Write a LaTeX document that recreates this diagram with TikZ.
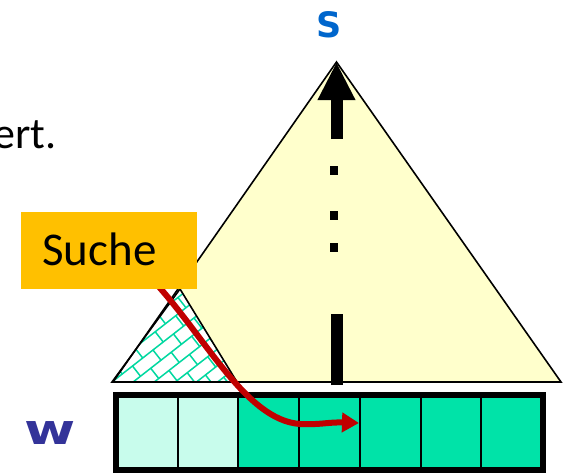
\documentclass[tikz,border=0pt]{standalone}
\usepackage{fontspec}
\newfontfamily\carlito{Carlito}
\newfontfamily\dejavu{DejaVu Sans}
\usetikzlibrary{arrows.meta}

\definecolor{triyellow}{HTML}{FFFFCC}
\definecolor{boxorange}{HTML}{FFC000}
\definecolor{cellpale}{HTML}{C8FCEC}
\definecolor{cellteal}{HTML}{00E3A8}
\definecolor{brickgreen}{HTML}{00D8A0}
\definecolor{pathred}{HTML}{C00000}
\definecolor{wblue}{HTML}{333399}
\definecolor{sblue}{HTML}{0066CC}

\begin{document}
\begin{tikzpicture}[x=1pt,y=-1pt,
  outline/.style={draw=black,line width=1.6pt,line join=miter},
  brickline/.style={draw=brickgreen,line width=1.5pt},
  cellbox/.style={draw=black,line width=2pt,inner sep=0pt,
    minimum width=60.71pt,minimum height=73pt,anchor=north west},
  redpath/.style={draw=pathred,line width=6pt,
    -{Triangle[length=17pt,width=19pt]}},
  spine/.style={line width=12pt},
  labeltext/.style={inner sep=0pt}]
\useasboundingbox (0,0) rectangle (565,472);

% large yellow triangle
\coordinate (apex) at (336.5,62);
\coordinate (bigl) at (113,382);
\coordinate (bigr) at (561,382);
\fill[triyellow] (apex) -- (bigl) -- (bigr) -- cycle;

% small hatched triangle
\coordinate (sa) at (180,289);
\coordinate (sl) at (112,382);
\coordinate (sr) at (237,382);
\fill[white] (sa) -- (sl) -- (sr) -- cycle;
\begin{scope}
  \clip (sa) -- (sl) -- (sr) -- cycle;
  \begin{scope}[shift={(112,382)},rotate=38]
    \foreach \rw in {-5,...,8} {
      \draw[brickline] (-40,\rw*13) -- (170,\rw*13);
      \pgfmathsetmacro\off{mod(\rw+20,2)*13}
      \foreach \cl in {-2,...,7} {
        \draw[brickline] (\cl*26+\off,\rw*13) -- (\cl*26+\off,\rw*13+13);
      }
    }
  \end{scope}
\end{scope}

\draw[outline] (apex) -- (bigl) -- (bigr) -- cycle;
\draw[outline] (sa) -- (sl) -- (sr) -- cycle;

% array of cells
\foreach \i/\col in {0/cellpale,1/cellpale,2/cellteal,3/cellteal,4/cellteal,5/cellteal,6/cellteal} {
  \node[cellbox,fill=\col] (c\i) at (116+60.71*\i,395) {};
}
\draw[line width=6pt] (c0.north west) rectangle (c6.south east);

% dashed path up to the root
\coordinate (spb) at (336.5,385);
\coordinate (spa) at (336.5,314);
\coordinate (spt) at (336.5,139);
\draw[spine] (spb) -- (spa);
\fill (330,166) rectangle (338,175);
\fill (330,211) rectangle (338,220);
\fill (330,243) rectangle (338,252);
\draw[spine,-{Triangle[length=38pt,width=35pt]}] (spt) -- (apex);

% search path
\coordinate (rs) at (150,277);
\coordinate (rm) at (300,424);
\coordinate (re) at (359,423);
\draw[redpath] (rs) .. controls (205,335) and (245,420) .. (rm)
  .. controls (320,425) and (328,422) .. (re);

% search label
\node[fill=boxorange,minimum width=176pt,minimum height=77pt,inner sep=0pt,
  anchor=north west] (suche) at (21,212) {};
\node[labeltext,anchor=base west,font=\carlito\fontsize{47}{56}\selectfont]
  (suchetext) at (42,265) {Suche};

% labels
\node[labeltext,anchor=base,text=sblue,font=\dejavu\bfseries\fontsize{35}{42}\selectfont]
  (root) at (329,37) {S};
\node[labeltext,anchor=base,text=wblue,font=\dejavu\bfseries\fontsize{42}{48}\selectfont]
  (word) at (50,444) {\scalebox{1.32}[1]{w}};
\node[labeltext,anchor=base east,font=\carlito\fontsize{44}{52}\selectfont]
  (tail) at (57,148) {ert.};
\end{tikzpicture}
\end{document}
